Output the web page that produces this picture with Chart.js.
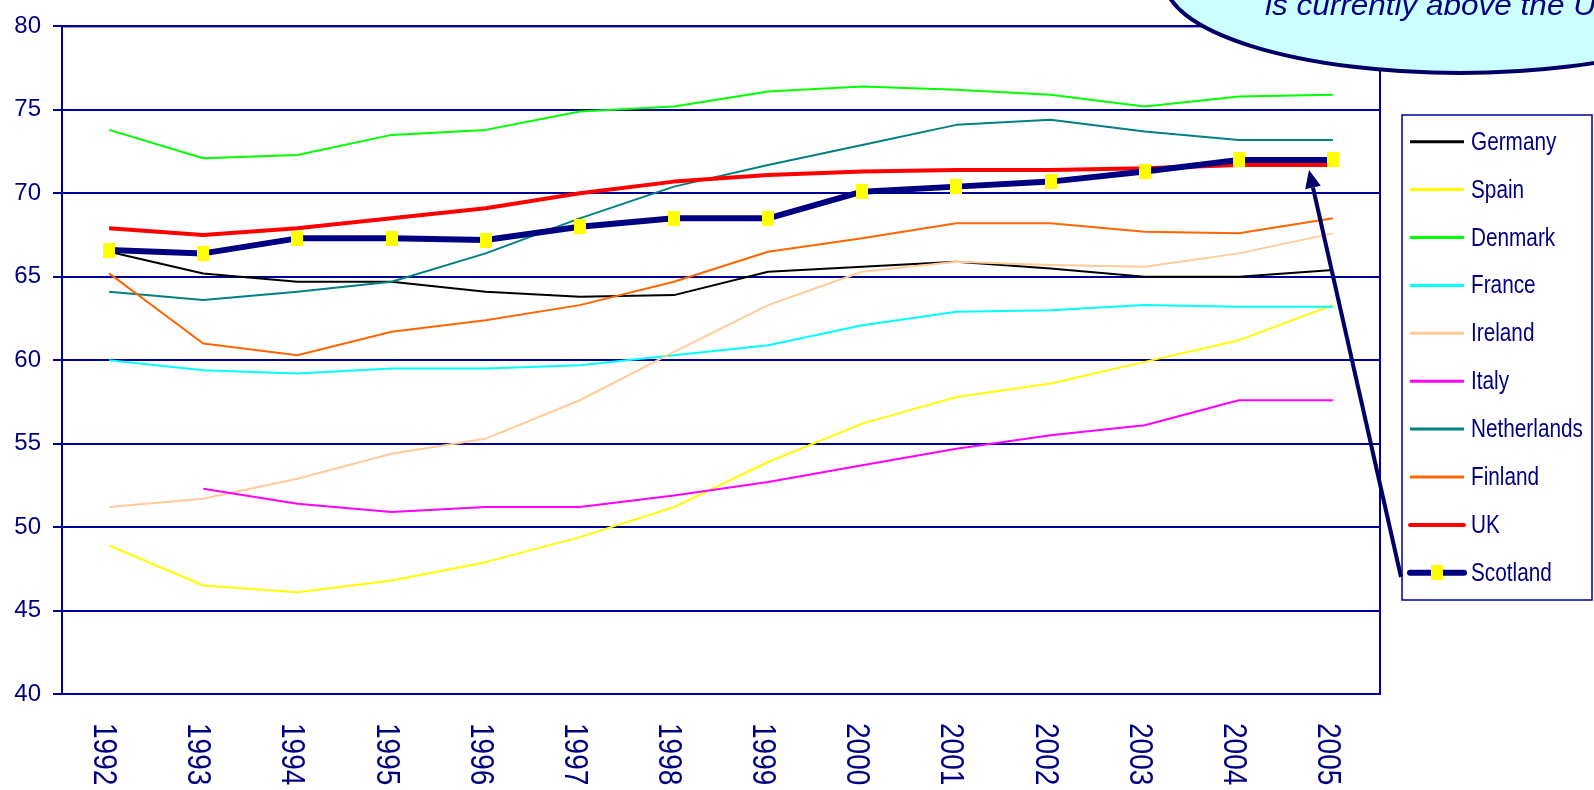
<!DOCTYPE html>
<html><head><meta charset="utf-8">
<script src="https://cdn.jsdelivr.net/npm/chart.js@4/dist/chart.umd.min.js"></script>
<style>html,body{margin:0;padding:0;background:#fff;overflow:hidden}</style>
</head><body>
<canvas id="c" width="1594" height="790" style="width:1594px;height:790px;display:block"></canvas>
<script>
const years = ['1992','1993','1994','1995','1996','1997','1998','1999','2000','2001','2002','2003','2004','2005'];
const yTicks = [40,45,50,55,60,65,70,75,80];
const germany     = [66.5,65.2,64.7,64.7,64.1,63.8,63.9,65.3,65.6,65.9,65.5,65.0,65.0,65.4];
const spain       = [48.9,46.5,46.1,46.8,47.9,49.4,51.2,53.9,56.2,57.8,58.6,59.9,61.2,63.3];
const denmark     = [73.8,72.1,72.3,73.5,73.8,74.9,75.2,76.1,76.4,76.2,75.9,75.2,75.8,75.9];
const france      = [60.0,59.4,59.2,59.5,59.5,59.7,60.3,60.9,62.1,62.9,63.0,63.3,63.2,63.2];
const ireland     = [51.2,51.7,52.9,54.4,55.3,57.6,60.5,63.3,65.3,65.9,65.7,65.6,66.4,67.6];
const italy       = [null,52.3,51.4,50.9,51.2,51.2,51.9,52.7,53.7,54.7,55.5,56.1,57.6,57.6];
const netherlands = [64.1,63.6,64.1,64.7,66.4,68.5,70.4,71.7,72.9,74.1,74.4,73.7,73.2,73.2];
const finland     = [65.2,61.0,60.3,61.7,62.4,63.3,64.7,66.5,67.3,68.2,68.2,67.7,67.6,68.5];
const uk          = [67.9,67.5,67.9,68.5,69.1,70.0,70.7,71.1,71.3,71.4,71.4,71.5,71.7,71.7];
const scotland    = [66.6,66.4,67.3,67.3,67.2,68.0,68.5,68.5,70.1,70.4,70.7,71.3,72.0,72.0];
const seriesNames = ['Germany','Spain','Denmark','France','Ireland','Italy','Netherlands','Finland','UK','Scotland'];
const calloutText = 'is currently above the UK';

const NAVY = '#000099';
const TEXT = '#000080';

// yellow rectangular marker for Scotland
const marker = document.createElement('canvas');
marker.width = 12; marker.height = 15;
(function(){const m = marker.getContext('2d'); m.fillStyle = '#FFFF00'; m.fillRect(0,0,12,15);})();

function ds(label, data, color, width, order, extra) {
  return Object.assign({
    label, data, borderColor: color, backgroundColor: color, borderWidth: width,
    pointRadius: 0, pointHoverRadius: 0, fill: false, tension: 0, order,
    borderJoinStyle: 'round', borderCapStyle: 'butt', spanGaps: false
  }, extra || {});
}

const datasets = [
  ds(seriesNames[0], germany, '#000000', 2, 10),
  ds(seriesNames[1], spain, '#FFFF00', 2, 9),
  ds(seriesNames[2], denmark, '#00FF00', 2, 8),
  ds(seriesNames[3], france, '#00FFFF', 2, 7),
  ds(seriesNames[4], ireland, '#FFCC99', 2, 6),
  ds(seriesNames[5], italy, '#FF00FF', 2, 5),
  ds(seriesNames[6], netherlands, '#008080', 2, 4),
  ds(seriesNames[7], finland, '#FF6600', 2, 3),
  ds(seriesNames[8], uk, '#FF0000', 4, 2),
  ds(seriesNames[9], scotland, '#000080', 6, 1, {pointStyle: marker, pointRadius: 7, pointBackgroundColor: '#FFFF00', pointBorderWidth: 0})
];

const decor = {
  id: 'decor',
  beforeDatasetsDraw(chart) {
    const {ctx, chartArea: a} = chart;
    ctx.save();
    ctx.strokeStyle = NAVY; ctx.lineWidth = 2;
    ctx.strokeRect(a.left, a.top, a.right - a.left, a.bottom - a.top);
    ctx.restore();
  },
  afterDraw(chart) {
    const {ctx} = chart;
    const xs = chart.scales.x;
    // rotated x labels (reading top to bottom)
    ctx.save();
    ctx.fillStyle = TEXT;
    ctx.font = '33px "Liberation Sans", Arial, sans-serif';
    ctx.textAlign = 'left'; ctx.textBaseline = 'alphabetic';
    years.forEach((y, i) => {
      const px = xs.getPixelForValue(i);
      ctx.save();
      ctx.translate(px - 15, 723);
      ctx.rotate(Math.PI / 2);
      ctx.scale(0.85, 1);
      ctx.fillText(y, 0, 0);
      ctx.restore();
    });
    ctx.restore();

    // legend
    ctx.save();
    ctx.strokeStyle = NAVY; ctx.lineWidth = 1.5;
    ctx.fillStyle = '#FFFFFF';
    ctx.fillRect(1402, 115, 190, 485);
    ctx.strokeRect(1402, 115, 190, 485);
    chart.data.datasets.forEach((d, i) => {
      const y = 141.7 + i * 47.9;
      ctx.save();
      ctx.strokeStyle = d.borderColor;
      ctx.lineWidth = i >= 8 ? d.borderWidth : 3;
      ctx.lineCap = i >= 8 ? 'round' : 'butt';
      ctx.beginPath(); ctx.moveTo(1410, y); ctx.lineTo(1464, y); ctx.stroke();
      if (d.pointStyle && typeof d.pointStyle === 'object') {
        ctx.drawImage(d.pointStyle, 1437 - 6, y - 7.5);
      }
      ctx.restore();
      ctx.save();
      ctx.fillStyle = TEXT;
      ctx.font = '25px "Liberation Sans", Arial, sans-serif';
      ctx.textAlign = 'left'; ctx.textBaseline = 'alphabetic';
      ctx.translate(1471, y + 8);
      ctx.scale(0.83, 1);
      ctx.fillText(d.label, 0, 0);
      ctx.restore();
    });
    ctx.restore();

    // callout bubble
    ctx.save();
    ctx.beginPath();
    ctx.ellipse(1460, -19, 295, 92, 0, 0, Math.PI * 2);
    ctx.fillStyle = '#CCFFFF'; ctx.fill();
    ctx.lineWidth = 4; ctx.strokeStyle = '#000066'; ctx.stroke();
    ctx.fillStyle = TEXT;
    ctx.font = 'italic 30px "Liberation Sans", Arial, sans-serif';
    ctx.textAlign = 'left'; ctx.textBaseline = 'alphabetic';
    ctx.translate(1265, 15);
    ctx.scale(1.05, 1);
    ctx.fillText(calloutText, 0, 0);
    ctx.restore();

    // arrow from legend to Scotland 2005 point
    const tipX = 1309, tipY = 170, tailX = 1401, tailY = 577;
    const ang = Math.atan2(tipY - tailY, tipX - tailX);
    const hl = 18, hw = 8;
    const bx = tipX - hl * Math.cos(ang), by = tipY - hl * Math.sin(ang);
    ctx.save();
    ctx.strokeStyle = '#000066'; ctx.fillStyle = '#000066';
    ctx.lineWidth = 4;
    ctx.beginPath(); ctx.moveTo(tailX, tailY); ctx.lineTo(bx, by); ctx.stroke();
    ctx.beginPath();
    ctx.moveTo(tipX, tipY);
    ctx.lineTo(bx + hw * Math.sin(ang), by - hw * Math.cos(ang));
    ctx.lineTo(bx - hw * Math.sin(ang), by + hw * Math.cos(ang));
    ctx.closePath(); ctx.fill();
    ctx.restore();
  }
};

new Chart(document.getElementById('c'), {
  type: 'line',
  data: { labels: years, datasets },
  options: {
    responsive: false, animation: false, devicePixelRatio: 1,
    layout: { padding: { left: 0, top: 24, right: 214, bottom: 0 } },
    plugins: { legend: { display: false }, tooltip: { enabled: false } },
    scales: {
      x: {
        type: 'category', offset: true,
        grid: { display: false, drawTicks: false },
        border: { display: true, color: NAVY, width: 2 },
        ticks: { display: false },
        afterFit(s) { s.height = 96; }
      },
      y: {
        min: 40, max: 80,
        afterBuildTicks(s) { s.ticks = yTicks.map(v => ({ value: v })); },
        grid: { color: NAVY, lineWidth: 2, tickLength: 9, drawTicks: true },
        border: { display: true, color: NAVY, width: 2 },
        ticks: { color: TEXT, padding: 12, font: { size: 24, family: '"Liberation Sans", Arial, sans-serif' } },
        afterFit(s) { s.width = 62; }
      }
    }
  },
  plugins: [decor]
});
</script>
</body></html>
